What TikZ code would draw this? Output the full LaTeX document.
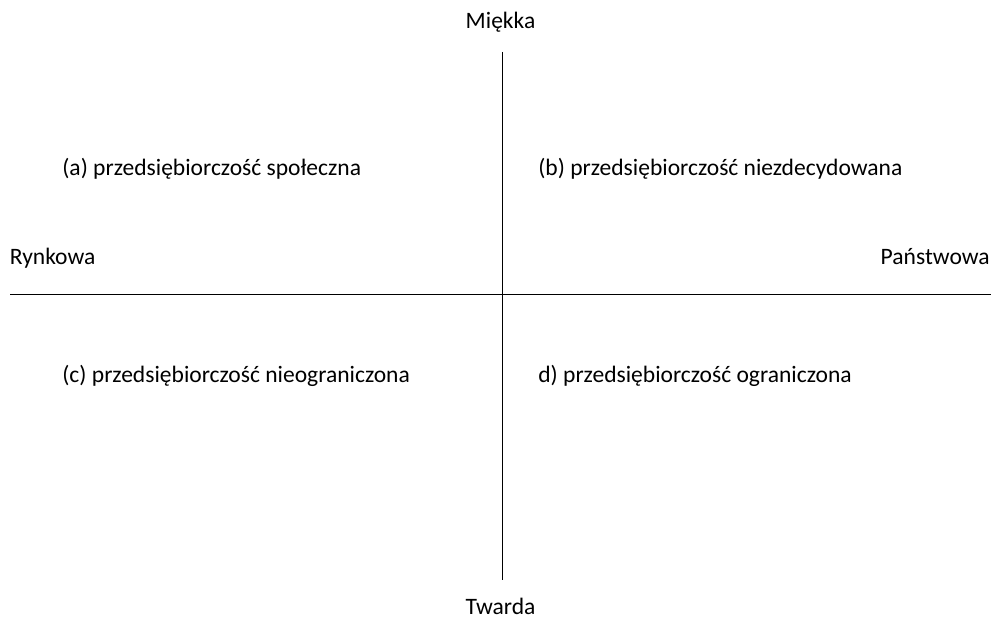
\documentclass[tikz,border=0pt]{standalone}
\usepackage{fontspec}
\setmainfont{Carlito}
\usetikzlibrary{positioning}

\begin{document}
\begin{tikzpicture}[x=0.02cm,y=-0.02cm]
\tikzstyle{axe}=[draw,line width=1.1pt]
\tikzstyle{etiq}=[inner sep=0pt,font=\fontsize{13.4}{16}\selectfont]

\useasboundingbox (0,0) rectangle (991,618);

\coordinate (haut) at (502.5,52);
\coordinate (bas) at (502.5,580);
\coordinate (gauche) at (10,294.5);
\coordinate (droite) at (991,294.5);

\node[etiq,anchor=base] (miekka) at (500.5,29) {Miękka};
\node[etiq,anchor=base] (twarda) at (500.5,614) {Twarda};
\node[etiq,anchor=base west] (rynkowa) at (9.5,265) {Rynkowa};
\node[etiq,anchor=base east] (panstwowa) at (990,265) {Państwowa};

\node[etiq,anchor=base west] (spol) at (62,176) {(a) przedsiębiorczość społeczna};
\node[etiq,anchor=base west] (niezd) at (538,176) {(b) przedsiębiorczość niezdecydowana};
\node[etiq,anchor=base west] (nieogr) at (62,382) {(c) przedsiębiorczość nieograniczona};
\node[etiq,anchor=base west] (ogr) at (538,382) {d) przedsiębiorczość ograniczona};

\draw[axe] (haut) -- (bas);
\draw[axe] (gauche) -- (droite);

\end{tikzpicture}
\end{document}
